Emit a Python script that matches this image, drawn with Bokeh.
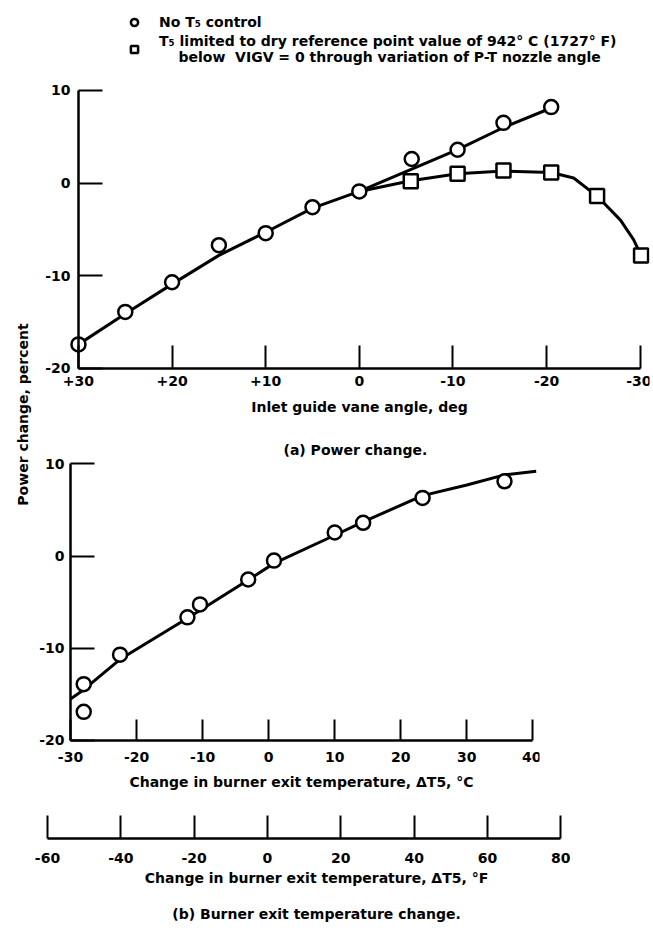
import math
from bokeh.plotting import figure
from bokeh.models import Range1d, FixedTicker, Legend, LegendItem, Title, Label
from bokeh.layouts import row, column
from bokeh.embed import file_html
from bokeh.resources import INLINE

FONT = "DejaVu Sans"

# ---------------- data ----------------
# (a) Power change vs inlet guide vane angle
igv_no_ctrl = [30, 25, 20, 15, 10, 5, 0, -5.6, -10.5, -15.4, -20.5]
power_no_ctrl = [-17.4, -13.9, -10.7, -6.7, -5.4, -2.6, -0.9, 2.6, 3.6, 6.5, 8.2]
igv_t5_lim = [-5.5, -10.5, -15.4, -20.5, -25.4, -30.1]
power_t5_lim = [0.2, 1.0, 1.35, 1.15, -1.4, -7.8]
# faired curves drawn through the points
fair_a_x = [30, 25, 20, 15, 10, 5, 0, -5.6, -10.5, -15.4, -20.5]
fair_a_y = [-17.4, -14.1, -10.9, -7.8, -5.3, -2.7, -0.9, 1.5, 3.6, 6.0, 8.1]
fair_b_x = [0, -5.5, -10.5, -15.4, -20.5, -22.9, -25.4, -27.9, -29.3, -30.1]
fair_b_y = [-0.9, 0.25, 1.0, 1.3, 1.15, 0.55, -1.4, -4.0, -6.1, -7.8]

# (b) Power change vs burner exit temperature change
dt5_c = [-28, -28, -22.5, -12.3, -10.4, -3.1, 0.8, 10, 14.3, 23.3, 35.7]
power_b = [-16.9, -13.9, -10.7, -6.65, -5.25, -2.55, -0.5, 2.55, 3.6, 6.3, 8.1]
fair_c_x = [-30, -28, -22.5, -12.3, -3.1, 0.8, 10, 14.3, 23.3, 30, 35.7, 40.5]
fair_c_y = [-15.5, -14.5, -11.2, -6.75, -2.6, -0.8, 2.25, 3.7, 6.55, 7.7, 8.8, 9.2]

# tick labels
igv_ticks = [30, 20, 10, 0, -10, -20, -30]
igv_labels = ["+30", "+20", "+10", "0", "-10", "-20", "-30"]
pow_ticks = [-20, -10, 0, 10]
pow_labels = ["-20", "-10", "0", "10"]
c_ticks = [-30, -20, -10, 0, 10, 20, 30, 40]
c_labels = ["-30", "-20", "-10", "0", "10", "20", "30", "40"]
f_ticks = [-60, -40, -20, 0, 20, 40, 60, 80]
f_labels = ["-60", "-40", "-20", "0", "20", "40", "60", "80"]


def style_axis(ax, ticks, labels, tick_in, bounds):
    ax.ticker = FixedTicker(ticks=ticks)
    ax.major_label_overrides = {t: l for t, l in zip(ticks, labels)}
    ax.bounds = bounds
    ax.minor_tick_line_color = None
    ax.major_tick_in = tick_in
    ax.major_tick_out = 0
    ax.major_tick_line_width = 2
    ax.major_tick_line_color = "black"
    ax.axis_line_width = 2.5
    ax.axis_line_color = "black"
    ax.major_label_text_font = FONT
    ax.major_label_text_font_style = "bold"
    ax.major_label_text_font_size = "14px"
    ax.major_label_text_color = "black"
    ax.axis_label_text_font = FONT
    ax.axis_label_text_font_style = "bold"
    ax.axis_label_text_font_size = "14px"
    ax.axis_label_text_color = "black"


def base(**kw):
    p = figure(output_backend="svg", toolbar_location=None, **kw)
    p.grid.visible = False
    p.outline_line_color = None
    p.background_fill_color = "white"
    p.border_fill_color = "white"
    return p


# ---------------- (a) top panel ----------------
top = base(frame_width=614, frame_height=416,
           x_range=Range1d(34.59, -31.0), y_range=Range1d(-26.26, 18.62),
           min_border_left=3, min_border_right=2, min_border_top=10,
           min_border_bottom=0)
style_axis(top.xaxis[0], igv_ticks, igv_labels, 23, (-30, 30))
top.xaxis[0].fixed_location = -20
top.xaxis[0].axis_label = "Inlet guide vane angle, deg"
top.xaxis[0].major_label_standoff = 8
top.xaxis[0].axis_label_standoff = 9
style_axis(top.yaxis[0], pow_ticks, pow_labels, 24, (-20, 10))
top.yaxis[0].fixed_location = 30
top.yaxis[0].major_label_standoff = 8

top.line(fair_a_x, fair_a_y, line_width=3, line_color="black")
top.line(fair_b_x, fair_b_y, line_width=3, line_color="black")
r_circ = top.scatter(igv_no_ctrl, power_no_ctrl, marker="circle", size=14,
                     fill_color="white", line_color="black", line_width=2.5)
r_sq = top.scatter(igv_t5_lim, power_t5_lim, marker="square", size=14,
                   fill_color="white", line_color="black", line_width=2.5)

legend = Legend(items=[
    LegendItem(label="No T\u2085 control", renderers=[r_circ]),
    LegendItem(label="T\u2085 limited to dry reference point value of 942\u00b0 C (1727\u00b0 F)\n"
                     "    below  VIGV = 0 through variation of P-T nozzle angle",
               renderers=[r_sq]),
], location=(90, 361), padding=0, margin=0, spacing=2,
    glyph_width=18, glyph_height=18, label_standoff=16, label_height=16,
    border_line_color=None, background_fill_alpha=0,
    label_text_font=FONT, label_text_font_style="bold",
    label_text_font_size="14px", label_text_color="black",
    label_text_line_height=0.9)
top.add_layout(legend)

# ---------------- (b) bottom panel ----------------
bot = base(frame_width=504, frame_height=339,
           x_range=Range1d(-35.3, 41), y_range=Range1d(-25.97, 10.79),
           min_border_left=3, min_border_right=2, min_border_top=30,
           min_border_bottom=3)
bot.add_layout(Title(text="(a) Power change.", align="left", offset=248,
                     text_font=FONT, text_font_style="bold", text_color="black",
                     text_font_size="14px", standoff=-3), "above")
style_axis(bot.xaxis[0], c_ticks, c_labels, 21, (-30, 40))
bot.xaxis[0].fixed_location = -20
style_axis(bot.yaxis[0], pow_ticks, pow_labels, 24, (-20, 10))
bot.yaxis[0].fixed_location = -30
bot.xaxis[0].axis_label = "Change in burner exit temperature, \u0394T5, \u00b0C"
bot.xaxis[0].major_label_standoff = 12
bot.xaxis[0].axis_label_standoff = 8
bot.yaxis[0].major_label_standoff = 6

bot.line(fair_c_x, fair_c_y, line_width=3, line_color="black")
bot.scatter(dt5_c, power_b, marker="circle", size=14,
            fill_color="white", line_color="black", line_width=2.5)

# ---------------- degF scale ----------------
ff = base(frame_width=562, frame_height=40,
          x_range=Range1d(-63.27, 90), y_range=Range1d(0, 1),
          min_border_left=3, min_border_right=2, min_border_top=0,
          min_border_bottom=88, y_axis_location=None)
style_axis(ff.xaxis[0], f_ticks, f_labels, 23, (-60, 80))
ff.xaxis[0].axis_label = "Change in burner exit temperature, \u0394T5, \u00b0F"
ff.xaxis[0].major_label_standoff = 14
ff.xaxis[0].axis_label_standoff = 4
ff.add_layout(Title(text="(b) Burner exit temperature change.", align="center",
                    text_font=FONT, text_font_style="bold", text_color="black",
                    text_font_size="14px", standoff=30), "below")

# ---------------- shared y label ----------------
lab = base(frame_width=32, frame_height=926,
           x_range=Range1d(0, 32), y_range=Range1d(926, 0),
           min_border=0, x_axis_location=None, y_axis_location=None)
lab.add_layout(Label(x=22, y=414, text="Power change, percent", angle=math.pi / 2,
                     text_align="center", text_baseline="middle",
                     text_font=FONT, text_font_style="bold",
                     text_font_size="14px", text_color="black"))

layout = row(lab, column(top, bot, ff))
open("out.html", "w").write(file_html(layout, INLINE))
